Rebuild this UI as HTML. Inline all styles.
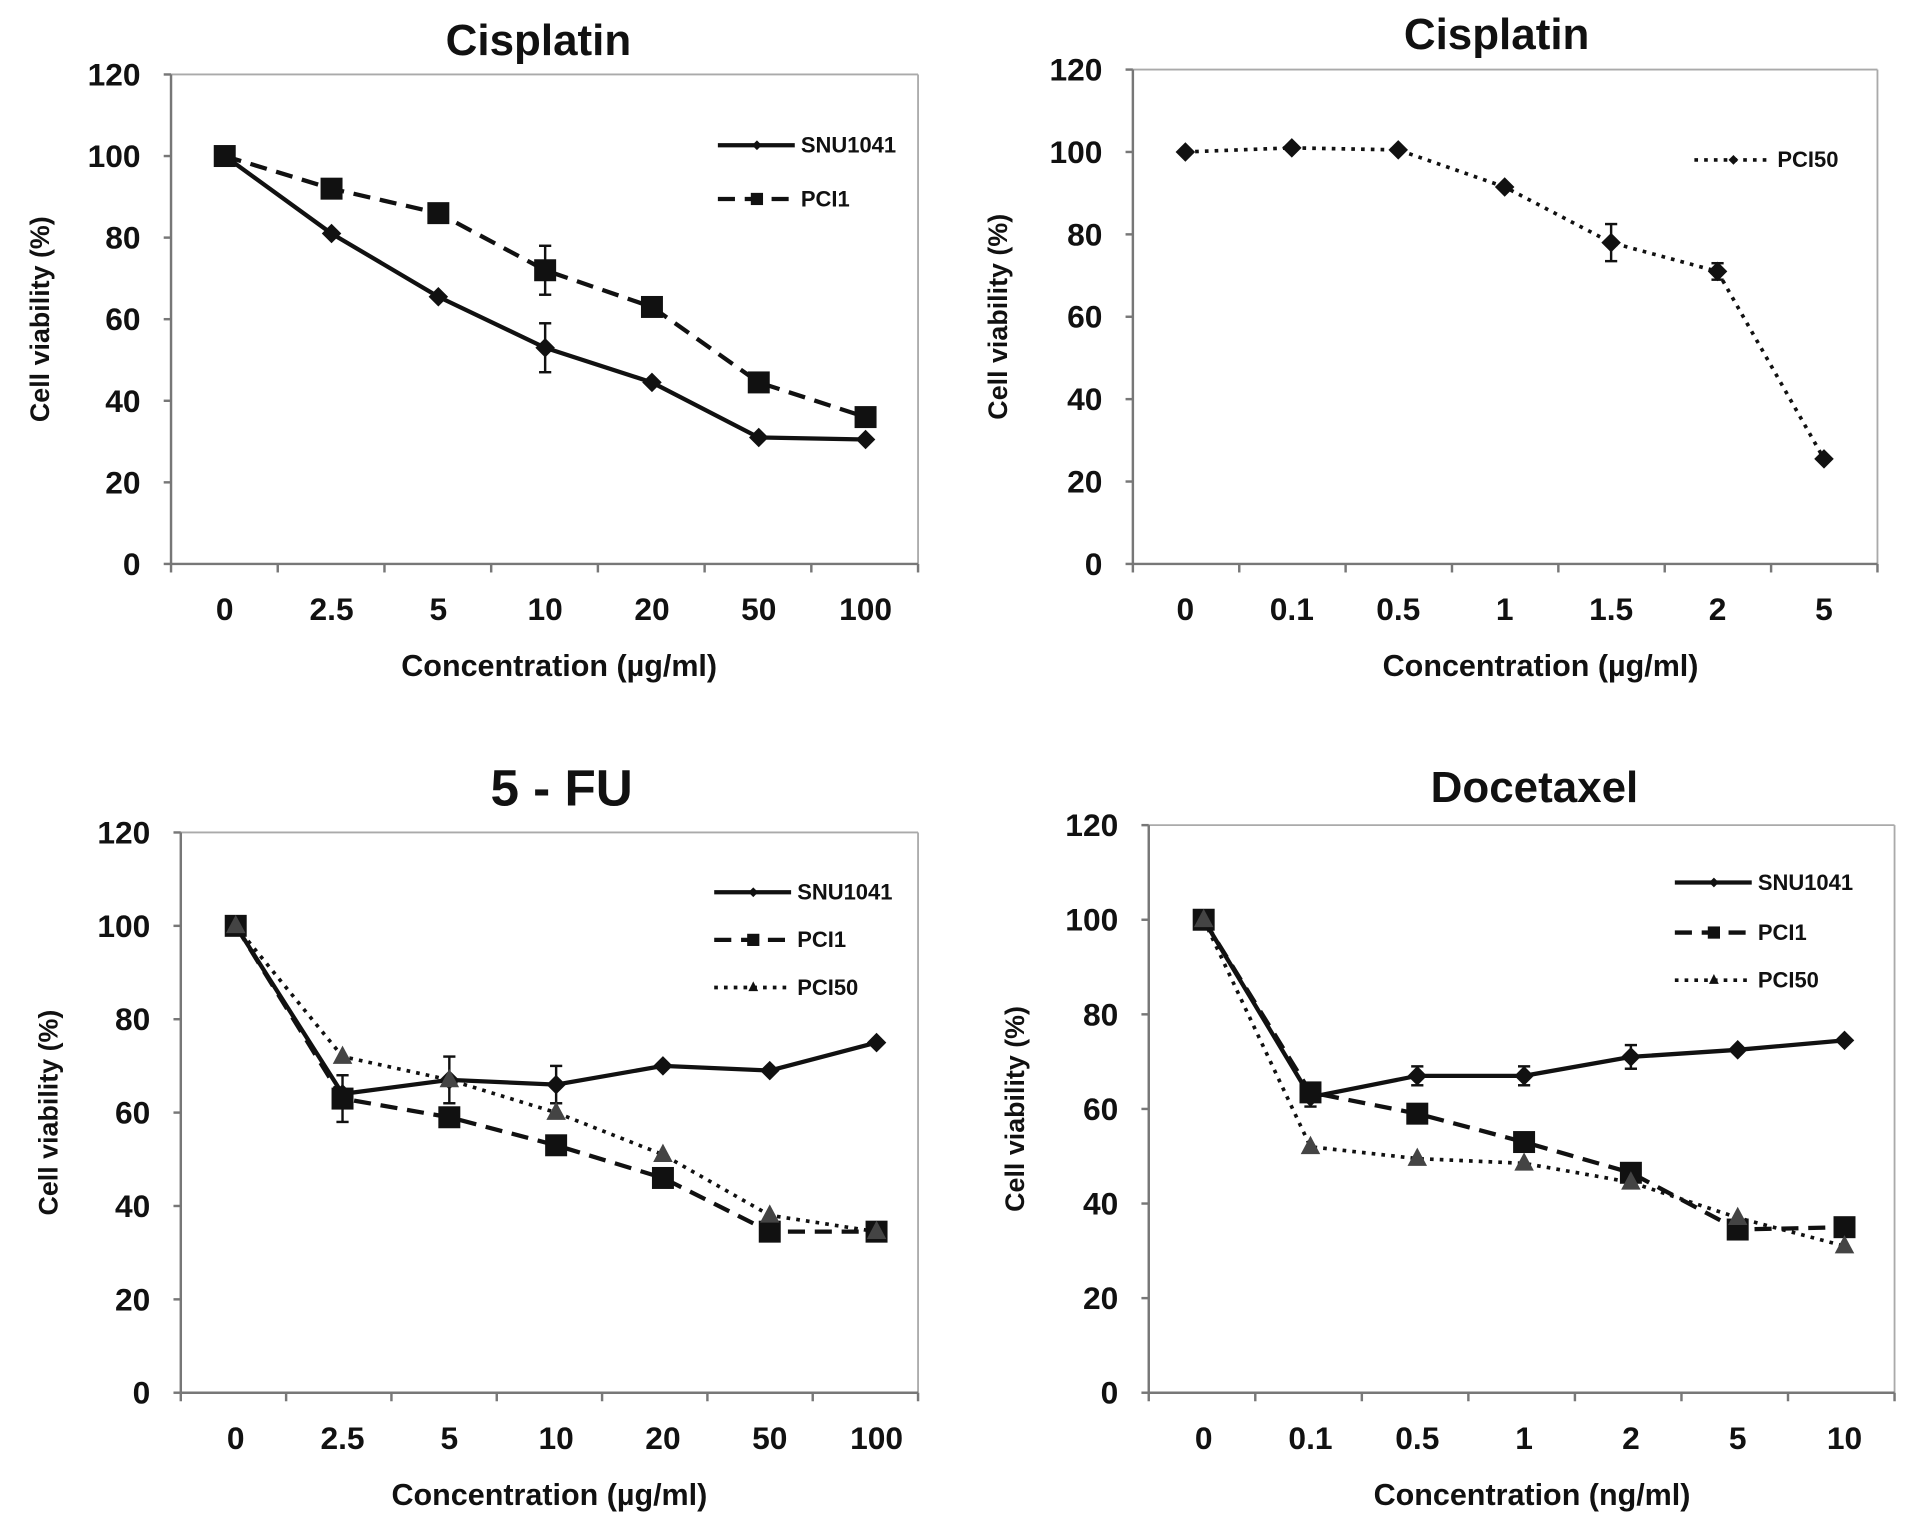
<!DOCTYPE html>
<html><head><meta charset="utf-8"><style>
html,body{margin:0;padding:0;background:#fff;}
svg{display:block;}
text{font-family:"Liberation Sans",sans-serif;font-weight:bold;fill:#111;}
</style></head><body>
<svg id="fig" width="1913" height="1527" viewBox="0 0 1567 1251" xmlns="http://www.w3.org/2000/svg"></svg>
<script>
// ---- data ----
const cisCats = ["0","2.5","5","10","20","50","100"];
const cisSNU = [100,81,65.5,53,44.5,31,30.5];
const cisSNUerr = [1,1,1,6,1,1,1];
const cisPCI1 = [100,92,86,72,63,44.5,36];
const cisPCI1err = [1,1,1,6,1,1,1];
const cis2Cats = ["0","0.1","0.5","1","1.5","2","5"];
const cis2PCI50 = [100,101,100.5,91.5,78,71,25.5];
const cis2PCI50err = [1,1,1,1,4.5,2,1];
const fuCats = ["0","2.5","5","10","20","50","100"];
const fuSNU = [100,64,67,66,70,69,75];
const fuSNUerr = [1,1,5,4,1,1,1.5];
const fuPCI1 = [100,63,59,53,46,34.5,34.5];
const fuPCI1err = [1,5,1,1,1,1,1];
const fuPCI50 = [100,72,67,60,51,38,34.5];
const docCats = ["0","0.1","0.5","1","2","5","10"];
const docSNU = [100,62.5,67,67,71,72.5,74.5];
const docSNUerr = [2,2,2,2,2.5,1,1];
const docPCI1 = [100,63.5,59,53,46.5,34.5,35];
const docPCI50 = [100,52,49.5,48.5,44.5,37,31];
const yTicks = [0,20,40,60,80,100,120];

const NS="http://www.w3.org/2000/svg";
const svg=document.getElementById('fig');
function mk(tag,attrs,parent){const e=document.createElementNS(NS,tag);for(const k in attrs)e.setAttribute(k,attrs[k]);(parent||svg).appendChild(e);return e;}

function marker(g,type,x,y){
  let m;
  if(type==='diamond'){m=mk('polygon',{points:`${x},${y-8} ${x+8},${y} ${x},${y+8} ${x-8},${y}`,fill:'#111'},g);}
  else if(type==='square'){m=mk('rect',{x:x-9,y:y-9,width:18,height:18,fill:'#111'},g);}
  else {m=mk('polygon',{points:`${x},${y-9} ${x+8},${y+6} ${x-8},${y+6}`,fill:'#444'},g);}
  return m;
}

function panel(cfg){
  const g=mk('g',{});
  
  
  const {L,T,B,R,x0,dx}=cfg;
  const ys=v=>B-(v/120)*(B-T);
  const xs=i=>x0+i*dx;
  mk('line',{x1:L,y1:T,x2:R,y2:T,stroke:'#aaa','stroke-width':1.5},g);
  mk('line',{x1:R,y1:T,x2:R,y2:B,stroke:'#aaa','stroke-width':1.5},g);
  const ya=mk('line',{x1:L,y1:T,x2:L,y2:B,stroke:'#777','stroke-width':2},g);
  
  const xa=mk('line',{x1:L,y1:B,x2:R,y2:B,stroke:'#777','stroke-width':2},g);
  
  yTicks.forEach(v=>{
    mk('line',{x1:L-6,y1:ys(v),x2:L,y2:ys(v),stroke:'#777','stroke-width':2},g);
    const t=mk('text',{x:L-25,y:ys(v)+9,'text-anchor':'end','font-size':26},g);t.textContent=v;
    
  });
  for(let k=0;k<=cfg.cats.length;k++){
    const tx=L+k*(R-L)/cfg.cats.length;
    mk('line',{x1:tx,y1:B,x2:tx,y2:B+7,stroke:'#777','stroke-width':2},g);
  }
  cfg.cats.forEach((c,i)=>{
    const t=mk('text',{x:xs(i),y:B+46,'text-anchor':'middle','font-size':26},g);t.textContent=c;
    
  });
  const tt=mk('text',{x:cfg.tx,y:cfg.ty,'text-anchor':'middle','font-size':cfg.tsize||36},g);tt.textContent=cfg.title;
  
  const xt=mk('text',{x:cfg.xtx,y:B+92,'text-anchor':'middle','font-size':25},g);xt.textContent=cfg.xtitle;
  
  const yc=(T+B)/2;
  const yt=mk('text',{x:cfg.ytx,y:yc,'text-anchor':'middle','font-size':22,transform:`rotate(-90 ${cfg.ytx} ${yc})`},g);yt.textContent='Cell viability (%)';
  
  const dashes={solid:'',dash:'14 8',dot:'3 5'};
  cfg.series.forEach(s=>{
    const sg=mk('g',{},g);
    
    
    const pts=s.vals.map((v,i)=>`${xs(i)},${ys(v)}`).join(' ');
    mk('polyline',{points:pts,fill:'none',stroke:'#111','stroke-width':s.style==='dot'?3:3.5,'stroke-dasharray':dashes[s.style]},sg);
    s.vals.forEach((v,i)=>{
      if(s.err&&s.err[i]>1.5){
        const e=s.err[i];
        mk('line',{x1:xs(i),y1:ys(v+e),x2:xs(i),y2:ys(v-e),stroke:'#111','stroke-width':2},sg);
        mk('line',{x1:xs(i)-5,y1:ys(v+e),x2:xs(i)+5,y2:ys(v+e),stroke:'#111','stroke-width':2},sg);
        mk('line',{x1:xs(i)-5,y1:ys(v-e),x2:xs(i)+5,y2:ys(v-e),stroke:'#111','stroke-width':2},sg);
      }
      const m=marker(sg,s.marker,xs(i),ys(v));
      
      
    });
    const lg=mk('g',{},g);
    
    
    mk('line',{x1:cfg.lx,y1:s.ly,x2:cfg.lx+63,y2:s.ly,stroke:'#111','stroke-width':s.style==='dot'?3:3.5,'stroke-dasharray':dashes[s.style]},lg);
    const lm=cfg.lx+32;
    if(s.marker==='square')mk('rect',{x:lm-5,y:s.ly-5,width:10,height:10,fill:'#111'},lg);
    else if(s.marker==='diamond')mk('polygon',{points:`${lm},${s.ly-4} ${lm+4},${s.ly} ${lm},${s.ly+4} ${lm-4},${s.ly}`,fill:'#111'},lg);
    else mk('polygon',{points:`${lm},${s.ly-5} ${lm+4},${s.ly+3} ${lm-4},${s.ly+3}`,fill:'#111'},lg);
    const lt=mk('text',{x:cfg.lx+68,y:s.ly+6,'font-size':18},lg);lt.textContent=s.label;
  });
}

panel({name:'cisplatin-panel-1',L:140,T:61,B:462,R:752,x0:184,dx:87.5,cats:cisCats,title:'Cisplatin',tx:441,ty:45,
  xtitle:'Concentration (µg/ml)',xtx:458,ytx:40,lx:588,
  series:[{label:'SNU1041',vals:cisSNU,err:cisSNUerr,style:'solid',marker:'diamond',ly:119},
          {label:'PCI1',vals:cisPCI1,err:cisPCI1err,style:'dash',marker:'square',ly:163}]});
panel({name:'cisplatin-panel-2',L:928,T:57,B:462,R:1538,x0:971,dx:87.2,cats:cis2Cats,title:'Cisplatin',tx:1226,ty:40,
  xtitle:'Concentration (µg/ml)',xtx:1262,ytx:825,lx:1388,
  series:[{label:'PCI50',vals:cis2PCI50,err:cis2PCI50err,style:'dot',marker:'diamond',ly:131}]});
panel({name:'fu-panel',L:148,T:682,B:1141,R:752,x0:193,dx:87.5,cats:fuCats,title:'5 - FU',tx:460,ty:660,tsize:42,
  xtitle:'Concentration (µg/ml)',xtx:450,ytx:47,lx:585,
  series:[{label:'SNU1041',vals:fuSNU,err:fuSNUerr,style:'solid',marker:'diamond',ly:731},
          {label:'PCI1',vals:fuPCI1,err:fuPCI1err,style:'dash',marker:'square',ly:770},
          {label:'PCI50',vals:fuPCI50,style:'dot',marker:'triangle',ly:809}]});
panel({name:'docetaxel-panel',L:941,T:676,B:1141,R:1552,x0:986,dx:87.5,cats:docCats,title:'Docetaxel',tx:1257,ty:657,
  xtitle:'Concentration (ng/ml)',xtx:1255,ytx:839,lx:1372,
  series:[{label:'SNU1041',vals:docSNU,err:docSNUerr,style:'solid',marker:'diamond',ly:723},
          {label:'PCI1',vals:docPCI1,style:'dash',marker:'square',ly:764},
          {label:'PCI50',vals:docPCI50,style:'dot',marker:'triangle',ly:803}]});
</script>
</body></html>
